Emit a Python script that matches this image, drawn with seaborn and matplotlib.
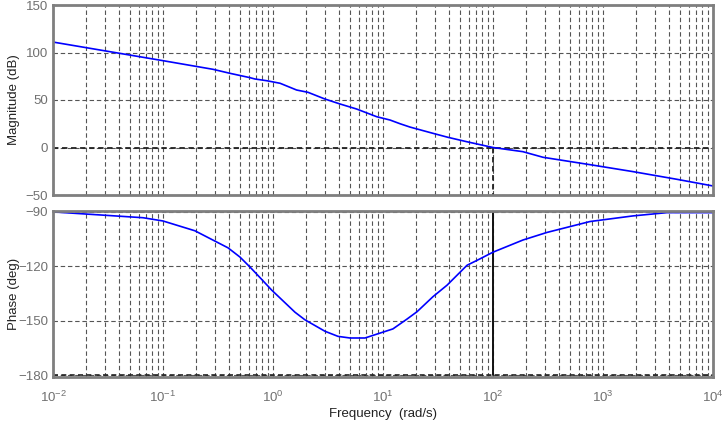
import numpy as np
import pandas as pd
import matplotlib
matplotlib.use("Agg")
import matplotlib.pyplot as plt
import seaborn as sns

# ---- data ----
mag_freq = [0.01, 0.1, 0.285, 0.406, 0.618, 0.686, 0.877, 1.16, 1.64, 2.08, 2.97,
            4.07, 5.76, 8.77, 11.6, 14.3, 17.6, 28.5, 39.0, 57.7, 100, 187, 285,
            794, 1875, 4710, 10000]
mag_db = [111, 91.4, 82.3, 78.1, 73.5, 72.1, 70.3, 67.6, 60.5, 58.1, 51,
          45.8, 40.5, 32.4, 28.9, 25.0, 21.5, 14.9, 10.7, 6.1, 0, -4.4, -10.3,
          -18.4, -25.4, -33.5, -40.5]

ph_freq = [0.01, 0.0658, 0.1, 0.195, 0.390, 0.501, 0.618, 0.778, 0.973, 1.585,
           1.954, 2.97, 3.90, 5.01, 6.86, 9.39, 12.3, 16.5, 20.4, 28.5, 38.2,
           58.1, 71.6, 100, 187, 310, 762, 1875, 3816, 10000]
ph_deg = [-90, -93.2, -95, -100.4, -109.8, -114.9, -120.4, -126.8, -133.1, -145.3,
          -149.5, -155.8, -158.6, -159.5, -159.5, -156.8, -154.5, -149.1, -145,
          -136.7, -130.4, -119.4, -116.7, -112.2, -105.5, -101.3, -95.3, -92.2,
          -90.4, -90.4]

crossover_freq = 100
mag_ticks = [-50, 0, 50, 100, 150]
ph_ticks = [-180, -150, -120, -90]
freq_ticks = [1e-2, 1e-1, 1e0, 1e1, 1e2, 1e3, 1e4]

mag_df = pd.DataFrame({"freq": mag_freq, "mag": mag_db})
ph_df = pd.DataFrame({"freq": ph_freq, "phase": ph_deg})

sns.set_theme(style="white")
plt.rcParams["font.family"] = ["Liberation Sans", "DejaVu Sans"]
plt.rcParams["mathtext.fontset"] = "custom"
plt.rcParams["mathtext.rm"] = "Liberation Sans"
plt.rcParams["mathtext.it"] = "Liberation Sans"
plt.rcParams["mathtext.default"] = "regular"

fig = plt.figure(figsize=(7.22, 4.25), dpi=100)
ax1 = fig.add_axes([53 / 722, 1 - 195 / 425, 660 / 722, 190 / 425])
ax2 = fig.add_axes([53 / 722, 1 - 377 / 425, 660 / 722, 166 / 425])

line_color = "#0000FF"
grid_kw = dict(color="#555555", lw=0.8, ls=(0, (4, 2.5)))
tick_color = "#707070"
frame_color = "#7f7f7f"
fs = 9.5

sns.lineplot(data=mag_df, x="freq", y="mag", ax=ax1, color=line_color, lw=1.2,
             estimator=None, sort=False)
sns.lineplot(data=ph_df, x="freq", y="phase", ax=ax2, color=line_color, lw=1.2,
             estimator=None, sort=False)

for ax in (ax1, ax2):
    ax.set_xscale("log")
    ax.set_xlim(1e-2, 1e4)
    ax.set_xticks(freq_ticks)
    ax.grid(which="both", axis="x", **grid_kw)
    ax.grid(which="major", axis="y", **grid_kw)
    ax.set_axisbelow(True)
    for sp in ax.spines.values():
        sp.set_color(frame_color)
        sp.set_linewidth(2)
    ax.tick_params(which="both", length=0, colors=tick_color, labelsize=fs)
    ax.set_xlabel("")

ax1.set_ylim(-50, 150)
ax1.set_yticks(mag_ticks)
ax1.tick_params(axis="x", labelbottom=False)
ax1.set_ylabel("Magnitude (dB)", fontsize=fs, color="#222222")
ax1.yaxis.set_label_coords(-0.05, 0.5)
ax1.axhline(0, color="#222222", lw=1.3, ls=(0, (3, 2)), zorder=1.5)
ax1.plot([crossover_freq, crossover_freq], [0, -50], color="#222222", lw=1.3,
         ls=(0, (3, 2)), zorder=1.5)

ax2.set_ylim(-181, -89.5)
ax2.set_yticks(ph_ticks)
ax2.set_ylabel("Phase (deg)", fontsize=fs, color="#222222")
ax2.yaxis.set_label_coords(-0.05, 0.5)
ax2.axhline(-180, color="#222222", lw=1.2, ls=(0, (3, 2)), zorder=1.5)
ax2.plot([crossover_freq, crossover_freq], [-90, -180], color="#111111", lw=1.4,
         zorder=1.5)
ax2.tick_params(axis="x", pad=9)
ax2.set_xlabel("Frequency  (rad/s)", fontsize=fs, color="#222222")
ax2.xaxis.set_label_coords(0.5, -0.185)

fig.savefig("out.png", dpi=100)
